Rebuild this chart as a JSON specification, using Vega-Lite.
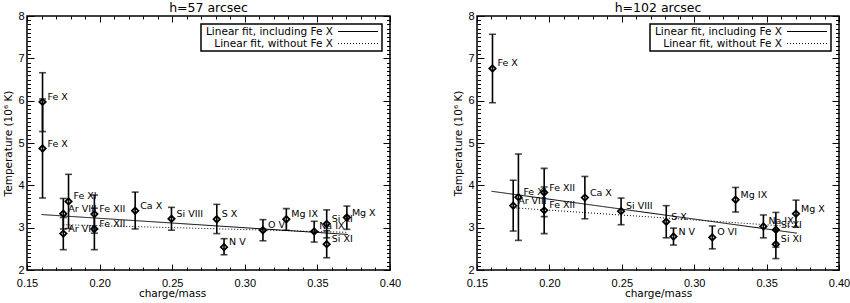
{
  "$schema": "https://vega.github.io/schema/vega-lite/v6.json",
  "padding": {"left": 3, "top": 0, "right": 0, "bottom": 0},
  "background": "white",
  "config": {
    "view": {"stroke": "black", "strokeWidth": 1.5},
    "font": "DejaVu Sans",
    "title": {"font": "DejaVu Sans", "fontSize": 12.5, "fontWeight": "normal", "anchor": "middle", "offset": -4, "color": "black"},
    "axis": {"domain": false, "grid": false, "tickColor": "black", "tickWidth": 1, "labelFlush": false, "labelOverlap": false,
      "labelFont": "Liberation Sans", "labelFontSize": 11, "labelColor": "black",
      "titleFont": "DejaVu Sans", "titleFontSize": 10.5, "titleFontWeight": "normal", "titleColor": "black"}
  },
  "datasets": {
    "h57": [
      {"ion": "Fe X", "q": 0.1607, "T": 5.97, "lo": 5.27, "hi": 6.66},
      {"ion": "Fe X", "q": 0.1607, "T": 4.87, "lo": 3.70, "hi": 6.04},
      {"ion": "Ar VIII", "q": 0.175, "T": 3.33, "lo": 2.97, "hi": 3.69},
      {"ion": "Ar VIII", "q": 0.175, "T": 2.86, "lo": 2.48, "hi": 3.24},
      {"ion": "Fe XI", "q": 0.1786, "T": 3.62, "lo": 2.98, "hi": 4.26},
      {"ion": "Fe XII", "q": 0.1964, "T": 3.32, "lo": 2.87, "hi": 3.77},
      {"ion": "Fe XII", "q": 0.1964, "T": 2.97, "lo": 2.48, "hi": 3.46},
      {"ion": "Ca X", "q": 0.2245, "T": 3.40, "lo": 2.97, "hi": 3.84},
      {"ion": "Si VIII", "q": 0.2495, "T": 3.21, "lo": 2.94, "hi": 3.48},
      {"ion": "S X", "q": 0.2807, "T": 3.20, "lo": 2.86, "hi": 3.55},
      {"ion": "N V", "q": 0.2857, "T": 2.54, "lo": 2.36, "hi": 2.74},
      {"ion": "O VI", "q": 0.3125, "T": 2.94, "lo": 2.69, "hi": 3.19},
      {"ion": "Mg IX", "q": 0.3286, "T": 3.20, "lo": 2.94, "hi": 3.45},
      {"ion": "Na IX", "q": 0.3478, "T": 2.91, "lo": 2.66, "hi": 3.15},
      {"ion": "Si XI", "q": 0.3564, "T": 3.09, "lo": 2.76, "hi": 3.42},
      {"ion": "Si XI", "q": 0.3564, "T": 2.61, "lo": 2.29, "hi": 2.93},
      {"ion": "Mg X", "q": 0.3703, "T": 3.24, "lo": 2.96, "hi": 3.51}
    ],
    "h102": [
      {"ion": "Fe X", "q": 0.1607, "T": 6.76, "lo": 5.95, "hi": 7.57},
      {"ion": "Ar VIII", "q": 0.175, "T": 3.52, "lo": 2.92, "hi": 4.12},
      {"ion": "Fe XI", "q": 0.1786, "T": 3.72, "lo": 2.70, "hi": 4.74},
      {"ion": "Fe XII", "q": 0.1964, "T": 3.83, "lo": 3.26, "hi": 4.40},
      {"ion": "Fe XII", "q": 0.1964, "T": 3.41, "lo": 2.86, "hi": 3.96},
      {"ion": "Ca X", "q": 0.2245, "T": 3.71, "lo": 3.21, "hi": 4.21},
      {"ion": "Si VIII", "q": 0.2495, "T": 3.39, "lo": 3.07, "hi": 3.70},
      {"ion": "S X", "q": 0.2807, "T": 3.14, "lo": 2.76, "hi": 3.52},
      {"ion": "N V", "q": 0.2857, "T": 2.79, "lo": 2.59, "hi": 2.99},
      {"ion": "O VI", "q": 0.3125, "T": 2.77, "lo": 2.50, "hi": 3.04},
      {"ion": "Mg IX", "q": 0.3286, "T": 3.66, "lo": 3.37, "hi": 3.95},
      {"ion": "Na IX", "q": 0.3478, "T": 3.03, "lo": 2.76, "hi": 3.30},
      {"ion": "Si XI", "q": 0.3564, "T": 2.95, "lo": 2.54, "hi": 3.36},
      {"ion": "Si XI", "q": 0.3564, "T": 2.61, "lo": 2.27, "hi": 2.95},
      {"ion": "Mg X", "q": 0.3703, "T": 3.33, "lo": 3.01, "hi": 3.65}
    ],
    "fit57": [
      {"fit": "Linear fit, including Fe X", "q": 0.160, "T": 3.31},
      {"fit": "Linear fit, including Fe X", "q": 0.371, "T": 2.84},
      {"fit": "Linear fit, without Fe X", "q": 0.175, "T": 3.07},
      {"fit": "Linear fit, without Fe X", "q": 0.371, "T": 2.89}
    ],
    "fit102": [
      {"fit": "Linear fit, including Fe X", "q": 0.160, "T": 3.86},
      {"fit": "Linear fit, including Fe X", "q": 0.371, "T": 2.87},
      {"fit": "Linear fit, without Fe X", "q": 0.175, "T": 3.47},
      {"fit": "Linear fit, without Fe X", "q": 0.371, "T": 3.02}
    ]
  },
  "spacing": 51,
  "resolve": {"legend": {"strokeDash": "independent"}, "scale": {"strokeDash": "independent"}},
  "hconcat": [
    {
      "title": {"text": "h=57 arcsec"},
      "width": 363,
      "height": 254,
      "resolve": {"axis": {"x": "independent", "y": "independent"}},
      "layer": [
        {
          "data": {"name": "h57"},
          "mark": {"type": "rule", "color": "black", "strokeWidth": 1.6},
          "encoding": {
            "x": {"field": "q", "type": "quantitative", "scale": {"domain": [0.15, 0.40], "nice": false, "zero": false},
              "axis": {"orient": "bottom", "values": [0.15, 0.2, 0.25, 0.3, 0.35, 0.4], "format": ".2f", "tickSize": -6, "labelPadding": 13,
                "title": "charge/mass", "titlePadding": 0, "titleX": 145}},
            "y": {"field": "lo", "type": "quantitative", "scale": {"domain": [2, 8], "nice": false, "zero": false},
              "axis": {"orient": "left", "values": [2, 3, 4, 5, 6, 7, 8], "format": "d", "tickSize": -7, "labelPadding": 10,
                "title": "Temperature (10⁶ K)", "titlePadding": 4}},
            "y2": {"field": "hi"}
          }
        },
        {
          "data": {"name": "h57"},
          "mark": {"type": "tick", "orient": "horizontal", "color": "black", "size": 7, "thickness": 1.6},
          "encoding": {
            "x": {"field": "q", "type": "quantitative",
              "axis": {"orient": "bottom", "values": [0.16,0.17,0.18,0.19,0.21,0.22,0.23,0.24,0.26,0.27,0.28,0.29,0.31,0.32,0.33,0.34,0.36,0.37,0.38,0.39], "labels": false, "title": null, "tickSize": -3}},
            "y": {"field": "lo", "type": "quantitative",
              "axis": {"orient": "left", "values": [2.1,2.2,2.3,2.4,2.5,2.6,2.7,2.8,2.9,3.1,3.2,3.3,3.4,3.5,3.6,3.7,3.8,3.9,4.1,4.2,4.3,4.4,4.5,4.6,4.7,4.8,4.9,5.1,5.2,5.3,5.4,5.5,5.6,5.7,5.8,5.9,6.1,6.2,6.3,6.4,6.5,6.6,6.7,6.8,6.9,7.1,7.2,7.3,7.4,7.5,7.6,7.7,7.8,7.9], "labels": false, "title": null, "tickSize": -3.5}}
          }
        },
        {
          "data": {"name": "h57"},
          "mark": {"type": "tick", "orient": "horizontal", "color": "black", "size": 7, "thickness": 1.6},
          "encoding": {
            "x": {"field": "q", "type": "quantitative",
              "axis": {"orient": "top", "values": [0.15, 0.2, 0.25, 0.3, 0.35, 0.4], "labels": false, "title": null, "tickSize": -6}},
            "y": {"field": "hi", "type": "quantitative",
              "axis": {"orient": "right", "values": [2, 3, 4, 5, 6, 7, 8], "labels": false, "title": null, "tickSize": -7}}
          }
        },
        {
          "data": {"name": "h57"},
          "mark": {"type": "point", "shape": "diamond", "filled": false, "stroke": "black", "strokeWidth": 1.8, "size": 40, "opacity": 1},
          "encoding": {
            "x": {"field": "q", "type": "quantitative",
              "axis": {"orient": "top", "values": [0.16,0.17,0.18,0.19,0.21,0.22,0.23,0.24,0.26,0.27,0.28,0.29,0.31,0.32,0.33,0.34,0.36,0.37,0.38,0.39], "labels": false, "title": null, "tickSize": -3}},
            "y": {"field": "T", "type": "quantitative",
              "axis": {"orient": "right", "values": [2.1,2.2,2.3,2.4,2.5,2.6,2.7,2.8,2.9,3.1,3.2,3.3,3.4,3.5,3.6,3.7,3.8,3.9,4.1,4.2,4.3,4.4,4.5,4.6,4.7,4.8,4.9,5.1,5.2,5.3,5.4,5.5,5.6,5.7,5.8,5.9,6.1,6.2,6.3,6.4,6.5,6.6,6.7,6.8,6.9,7.1,7.2,7.3,7.4,7.5,7.6,7.7,7.8,7.9], "labels": false, "title": null, "tickSize": -3.5}}
          }
        },
        {
          "data": {"name": "h57"},
          "mark": {"type": "text", "align": "left", "baseline": "alphabetic", "dx": 5, "dy": -2, "font": "DejaVu Sans", "fontSize": 9.5, "color": "black"},
          "encoding": {"x": {"field": "q", "type": "quantitative", "axis": null}, "y": {"field": "T", "type": "quantitative", "axis": null}, "text": {"field": "ion"}}
        },
        {
          "data": {"name": "fit57"},
          "mark": {"type": "line", "color": "black", "strokeWidth": 1},
          "encoding": {
            "x": {"field": "q", "type": "quantitative", "axis": null},
            "y": {"field": "T", "type": "quantitative", "axis": null},
            "strokeDash": {"field": "fit", "type": "nominal",
              "scale": {"domain": ["Linear fit, including Fe X", "Linear fit, without Fe X"], "range": [[1, 0], [1, 2]]},
              "legend": {"title": null, "orient": "top-right", "offset": 8, "strokeColor": "black", "padding": 2, "rowPadding": 1,
                "symbolType": "M-4,0H4", "symbolSize": 100, "symbolStrokeWidth": 1, "symbolStrokeColor": "black",
                "labelFont": "DejaVu Sans", "labelFontSize": 10.5, "labelColor": "black", "labelLimit": 300,
                "encode": {"labels": {"update": {"align": {"value": "right"}, "x": {"value": 130}}}, "symbols": {"update": {"x": {"value": 155}}}, "legend": {"update": {"strokeWidth": {"value": 1.5}}}}}}
          }
        }
      ]
    },
    {
      "title": {"text": "h=102 arcsec"},
      "width": 362,
      "height": 254,
      "resolve": {"axis": {"x": "independent", "y": "independent"}},
      "layer": [
        {
          "data": {"name": "h102"},
          "mark": {"type": "rule", "color": "black", "strokeWidth": 1.6},
          "encoding": {
            "x": {"field": "q", "type": "quantitative", "scale": {"domain": [0.15, 0.40], "nice": false, "zero": false},
              "axis": {"orient": "bottom", "values": [0.15, 0.2, 0.25, 0.3, 0.35, 0.4], "format": ".2f", "tickSize": -6, "labelPadding": 13,
                "title": "charge/mass", "titlePadding": 0}},
            "y": {"field": "lo", "type": "quantitative", "scale": {"domain": [2, 8], "nice": false, "zero": false},
              "axis": {"orient": "left", "values": [2, 3, 4, 5, 6, 7, 8], "format": "d", "tickSize": -7, "labelPadding": 10,
                "title": "Temperature (10⁶ K)", "titlePadding": 4}},
            "y2": {"field": "hi"}
          }
        },
        {
          "data": {"name": "h102"},
          "mark": {"type": "tick", "orient": "horizontal", "color": "black", "size": 7, "thickness": 1.6},
          "encoding": {
            "x": {"field": "q", "type": "quantitative",
              "axis": {"orient": "bottom", "values": [0.16,0.17,0.18,0.19,0.21,0.22,0.23,0.24,0.26,0.27,0.28,0.29,0.31,0.32,0.33,0.34,0.36,0.37,0.38,0.39], "labels": false, "title": null, "tickSize": -3}},
            "y": {"field": "lo", "type": "quantitative",
              "axis": {"orient": "left", "values": [2.1,2.2,2.3,2.4,2.5,2.6,2.7,2.8,2.9,3.1,3.2,3.3,3.4,3.5,3.6,3.7,3.8,3.9,4.1,4.2,4.3,4.4,4.5,4.6,4.7,4.8,4.9,5.1,5.2,5.3,5.4,5.5,5.6,5.7,5.8,5.9,6.1,6.2,6.3,6.4,6.5,6.6,6.7,6.8,6.9,7.1,7.2,7.3,7.4,7.5,7.6,7.7,7.8,7.9], "labels": false, "title": null, "tickSize": -3.5}}
          }
        },
        {
          "data": {"name": "h102"},
          "mark": {"type": "tick", "orient": "horizontal", "color": "black", "size": 7, "thickness": 1.6},
          "encoding": {
            "x": {"field": "q", "type": "quantitative",
              "axis": {"orient": "top", "values": [0.15, 0.2, 0.25, 0.3, 0.35, 0.4], "labels": false, "title": null, "tickSize": -6}},
            "y": {"field": "hi", "type": "quantitative",
              "axis": {"orient": "right", "values": [2, 3, 4, 5, 6, 7, 8], "labels": false, "title": null, "tickSize": -7}}
          }
        },
        {
          "data": {"name": "h102"},
          "mark": {"type": "point", "shape": "diamond", "filled": false, "stroke": "black", "strokeWidth": 1.8, "size": 40, "opacity": 1},
          "encoding": {
            "x": {"field": "q", "type": "quantitative",
              "axis": {"orient": "top", "values": [0.16,0.17,0.18,0.19,0.21,0.22,0.23,0.24,0.26,0.27,0.28,0.29,0.31,0.32,0.33,0.34,0.36,0.37,0.38,0.39], "labels": false, "title": null, "tickSize": -3}},
            "y": {"field": "T", "type": "quantitative",
              "axis": {"orient": "right", "values": [2.1,2.2,2.3,2.4,2.5,2.6,2.7,2.8,2.9,3.1,3.2,3.3,3.4,3.5,3.6,3.7,3.8,3.9,4.1,4.2,4.3,4.4,4.5,4.6,4.7,4.8,4.9,5.1,5.2,5.3,5.4,5.5,5.6,5.7,5.8,5.9,6.1,6.2,6.3,6.4,6.5,6.6,6.7,6.8,6.9,7.1,7.2,7.3,7.4,7.5,7.6,7.7,7.8,7.9], "labels": false, "title": null, "tickSize": -3.5}}
          }
        },
        {
          "data": {"name": "h102"},
          "mark": {"type": "text", "align": "left", "baseline": "alphabetic", "dx": 5, "dy": -2, "font": "DejaVu Sans", "fontSize": 9.5, "color": "black"},
          "encoding": {"x": {"field": "q", "type": "quantitative", "axis": null}, "y": {"field": "T", "type": "quantitative", "axis": null}, "text": {"field": "ion"}}
        },
        {
          "data": {"name": "fit102"},
          "mark": {"type": "line", "color": "black", "strokeWidth": 1},
          "encoding": {
            "x": {"field": "q", "type": "quantitative", "axis": null},
            "y": {"field": "T", "type": "quantitative", "axis": null},
            "strokeDash": {"field": "fit", "type": "nominal",
              "scale": {"domain": ["Linear fit, including Fe X", "Linear fit, without Fe X"], "range": [[1, 0], [1, 2]]},
              "legend": {"title": null, "orient": "top-right", "offset": 8, "strokeColor": "black", "padding": 2, "rowPadding": 1,
                "symbolType": "M-4,0H4", "symbolSize": 100, "symbolStrokeWidth": 1, "symbolStrokeColor": "black",
                "labelFont": "DejaVu Sans", "labelFontSize": 10.5, "labelColor": "black", "labelLimit": 300,
                "encode": {"labels": {"update": {"align": {"value": "right"}, "x": {"value": 130}}}, "symbols": {"update": {"x": {"value": 155}}}, "legend": {"update": {"strokeWidth": {"value": 1.5}}}}}}
          }
        }
      ]
    }
  ]
}
